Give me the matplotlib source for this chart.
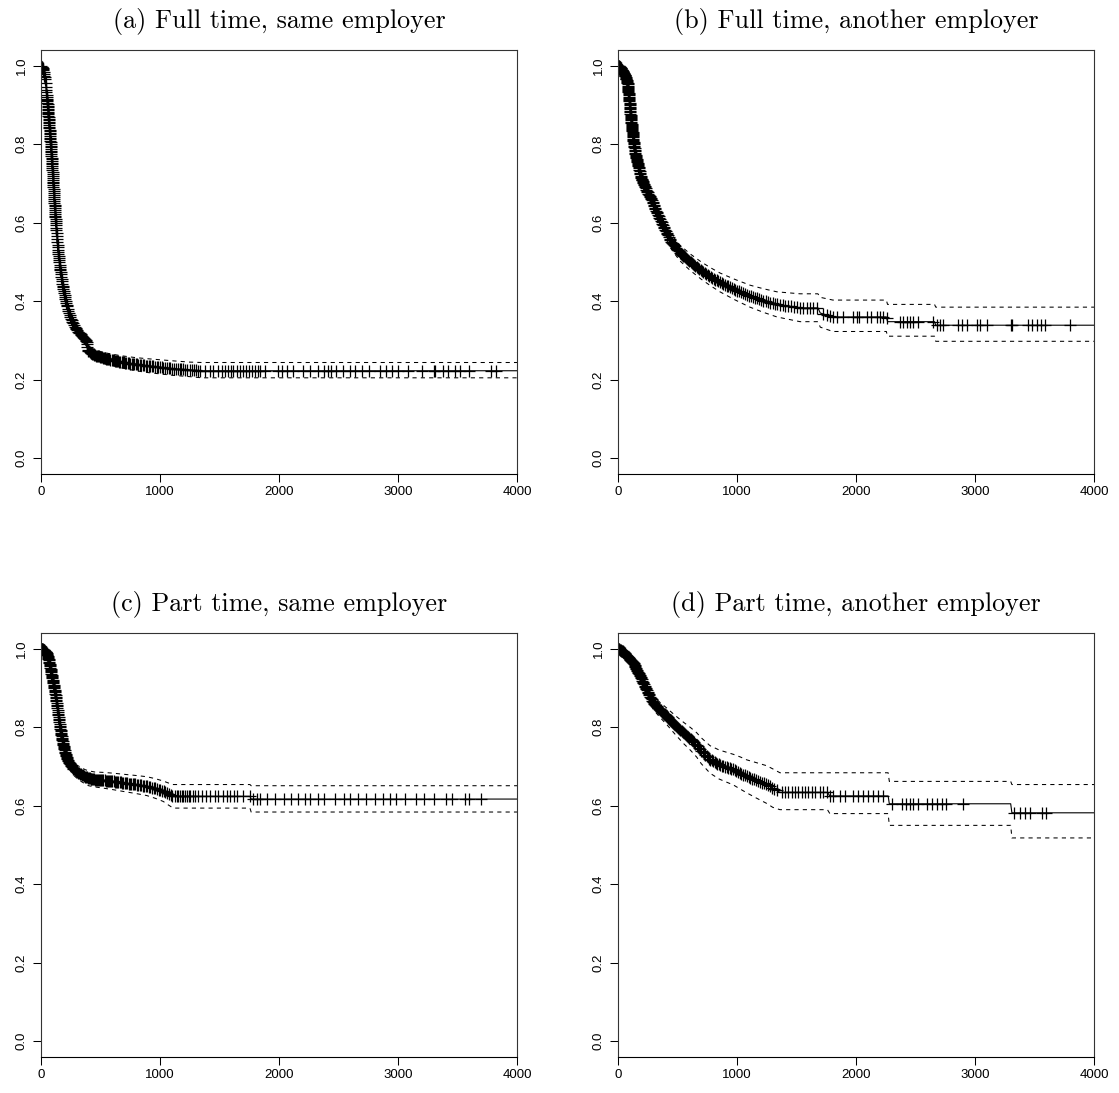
import numpy as np
import matplotlib
matplotlib.use("Agg")
import matplotlib.pyplot as plt

# --- Kaplan-Meier estimates ---
titles = ["(a) Full time, same employer", "(b) Full time, another employer",
          "(c) Part time, same employer", "(d) Part time, another employer"]

x_ticks = [0, 1000, 2000, 3000, 4000]
y_ticks = [0.0, 0.2, 0.4, 0.6, 0.8, 1.0]
y_labels = ["0.0", "0.2", "0.4", "0.6", "0.8", "1.0"]

# (a) full time, same employer
time_a = [0, 20, 35, 50, 65, 80, 95, 110, 125, 140, 160, 180, 200, 225, 250, 280, 310,
          340, 370, 385, 390, 420, 460, 520, 600, 680, 780, 880, 1000, 1120, 1250, 1350, 4000]
surv_a = [1.0, 0.99, 0.965, 0.92, 0.865, 0.805, 0.74, 0.665, 0.595, 0.54, 0.485, 0.445,
          0.412, 0.382, 0.357, 0.337, 0.323, 0.313, 0.303, 0.296, 0.276, 0.268, 0.262,
          0.256, 0.25, 0.245, 0.24, 0.236, 0.232, 0.228, 0.225, 0.223, 0.223]
upper_a = [1.0, 0.993, 0.97, 0.927, 0.873, 0.814, 0.749, 0.675, 0.605, 0.55, 0.495, 0.455,
           0.422, 0.392, 0.367, 0.348, 0.334, 0.324, 0.315, 0.308, 0.288, 0.281, 0.275,
           0.27, 0.265, 0.261, 0.257, 0.254, 0.251, 0.248, 0.245, 0.244, 0.244]
lower_a = [1.0, 0.987, 0.96, 0.913, 0.857, 0.796, 0.731, 0.655, 0.585, 0.53, 0.475, 0.435,
           0.402, 0.372, 0.347, 0.327, 0.313, 0.303, 0.292, 0.285, 0.265, 0.256, 0.25,
           0.243, 0.236, 0.23, 0.224, 0.219, 0.215, 0.211, 0.208, 0.205, 0.205]
cens_a = [2, 5, 8, 11, 14, 17, 20, 23, 26, 29, 32, 35, 38, 41, 44, 46, 48, 50, 51, 52, 53,
          54, 55, 56, 57, 58, 59, 60, 61, 62, 63, 64, 65, 66, 67, 68, 69, 70, 71, 72, 73,
          74, 75, 76, 77, 78, 79, 80, 81, 82, 83, 84, 85, 86, 87, 88, 89, 90, 91, 92, 93,
          94, 95, 96, 97, 98, 99, 100, 101, 102, 103, 104, 105, 106, 107, 108, 109, 110,
          111, 112, 113, 114, 115, 116, 117, 118, 119, 120, 121, 122, 123, 124, 125, 127,
          129, 131, 133, 135, 137, 139, 141, 143, 145, 147, 149, 151, 153, 155, 157, 159,
          161, 163, 165, 168, 171, 174, 177, 180, 183, 186, 189, 192, 195, 198, 201, 205,
          209, 213, 217, 221, 226, 231, 236, 241, 246, 252, 258, 264, 270, 276, 283, 290,
          297, 304, 311, 318, 325, 332, 339, 346, 353, 360, 367, 374, 380, 384, 386, 388,
          392, 398, 404, 410, 416, 422, 428, 435, 442, 449, 456, 463, 470, 478, 486, 494,
          502, 510, 518, 526, 534, 542, 550, 558, 566, 575, 584, 593, 602, 611, 620, 629,
          638, 648, 658, 668, 678, 688, 698, 708, 718, 729, 740, 751, 762, 773, 784, 795,
          807, 819, 831, 843, 855, 867, 880, 893, 906, 919, 932, 945, 958, 972, 986, 1000,
          1014, 1028, 1042, 1057, 1072, 1087, 1102, 1117, 1132, 1148, 1164, 1180, 1196,
          1212, 1230, 1248, 1266, 1284, 1302, 1320, 1336, 1378, 1420, 1445, 1487, 1520,
          1546, 1571, 1596, 1613, 1646, 1672, 1697, 1722, 1747, 1772, 1798, 1823, 1840,
          1882, 1991, 2024, 2066, 2117, 2200, 2260, 2330, 2380, 2410, 2440, 2480, 2540,
          2600, 2640, 2700, 2760, 2850, 2900, 2950, 3000, 3080, 3200, 3300, 3310, 3380,
          3420, 3480, 3520, 3600, 3780, 3820]

# (b) full time, another employer
time_b = [0, 20, 40, 60, 80, 95, 107, 123, 133, 150, 171, 190, 213, 245, 283, 320, 367,
          410, 452, 520, 605, 700, 780, 857, 980, 1109, 1220, 1336, 1530, 1680, 1700, 1806,
          2255, 2265, 2660, 2670, 4000]
surv_b = [1.0, 0.995, 0.985, 0.975, 0.955, 0.913, 0.871, 0.829, 0.8, 0.77, 0.744, 0.72,
          0.701, 0.68, 0.659, 0.63, 0.6, 0.573, 0.55, 0.523, 0.5, 0.478, 0.462, 0.448, 0.43,
          0.413, 0.402, 0.392, 0.383, 0.383, 0.37, 0.36, 0.36, 0.348, 0.348, 0.339, 0.339]
upper_b = [1.0, 0.998, 0.99, 0.982, 0.964, 0.923, 0.882, 0.841, 0.812, 0.783, 0.757, 0.734,
           0.715, 0.695, 0.674, 0.646, 0.617, 0.591, 0.569, 0.543, 0.521, 0.5, 0.485, 0.472,
           0.456, 0.441, 0.432, 0.424, 0.419, 0.419, 0.41, 0.403, 0.403, 0.392, 0.392,
           0.385, 0.385]
lower_b = [1.0, 0.992, 0.98, 0.968, 0.946, 0.903, 0.86, 0.817, 0.788, 0.757, 0.731, 0.706,
           0.687, 0.665, 0.644, 0.614, 0.583, 0.555, 0.531, 0.503, 0.479, 0.456, 0.439,
           0.424, 0.404, 0.385, 0.372, 0.36, 0.348, 0.348, 0.334, 0.323, 0.323, 0.311,
           0.311, 0.298, 0.298]
cens_b = [2, 4, 6, 8, 10, 12, 14, 16, 18, 20, 22, 24, 26, 28, 30, 32, 34, 36, 38, 40, 42,
          44, 46, 48, 50, 52, 54, 56, 58, 60, 62, 64, 66, 68, 70, 72, 74, 76, 78, 80, 81,
          82, 83, 84, 85, 86, 87, 88, 89, 90, 91, 92, 93, 94, 95, 96, 97, 98, 99, 100, 101,
          102, 103, 104, 105, 106, 107, 108, 109, 110, 111, 112, 113, 114, 115, 116, 117,
          118, 119, 120, 121, 122, 123, 124, 125, 126, 127, 128, 129, 130, 131, 132, 133,
          135, 137, 139, 141, 143, 145, 147, 149, 151, 153, 155, 157, 159, 161, 163, 165,
          167, 169, 171, 173, 175, 178, 181, 184, 187, 190, 193, 196, 199, 202, 205, 208,
          211, 214, 218, 222, 226, 230, 234, 238, 242, 246, 250, 255, 260, 265, 270, 275,
          280, 285, 290, 295, 300, 305, 310, 315, 320, 325, 330, 336, 342, 348, 354, 360,
          366, 372, 378, 384, 390, 396, 402, 408, 414, 420, 427, 434, 441, 448, 455, 462,
          470, 478, 486, 494, 502, 510, 518, 526, 535, 544, 553, 562, 571, 580, 590, 600,
          610, 620, 630, 640, 651, 662, 673, 684, 695, 706, 718, 730, 742, 754, 766, 778,
          791, 804, 817, 830, 843, 856, 870, 884, 898, 912, 926, 941, 956, 971, 986, 1001,
          1017, 1033, 1049, 1065, 1082, 1099, 1116, 1133, 1150, 1168, 1186, 1204, 1222,
          1240, 1260, 1280, 1300, 1320, 1340, 1362, 1384, 1406, 1428, 1450, 1475, 1500,
          1529, 1557, 1585, 1613, 1641, 1669, 1725, 1753, 1781, 1809, 1837, 1888, 1977,
          2011, 2028, 2090, 2123, 2179, 2202, 2230, 2258, 2370, 2398, 2426, 2454, 2482,
          2524, 2644, 2683, 2706, 2734, 2860, 2893, 2930, 3014, 3042, 3098, 3302, 3310,
          3442, 3476, 3518, 3551, 3588, 3800]

# (c) part time, same employer
time_c = [0, 25, 48, 65, 81, 95, 109, 120, 132, 146, 160, 179, 202, 220, 238, 260, 280,
          310, 342, 370, 400, 450, 520, 605, 700, 800, 888, 960, 1027, 1070, 1111, 1756,
          1766, 4000]
surv_c = [1.0, 0.997, 0.989, 0.972, 0.947, 0.926, 0.904, 0.885, 0.862, 0.83, 0.8, 0.768,
          0.735, 0.72, 0.709, 0.699, 0.692, 0.685, 0.679, 0.674, 0.67, 0.667, 0.665, 0.662,
          0.658, 0.654, 0.65, 0.644, 0.637, 0.63, 0.624, 0.624, 0.617, 0.617]
upper_c = [1.0, 0.999, 0.993, 0.978, 0.955, 0.935, 0.914, 0.896, 0.874, 0.843, 0.813,
           0.782, 0.749, 0.735, 0.724, 0.715, 0.708, 0.702, 0.697, 0.692, 0.689, 0.686,
           0.685, 0.683, 0.68, 0.677, 0.674, 0.669, 0.663, 0.658, 0.654, 0.654, 0.651, 0.651]
lower_c = [1.0, 0.995, 0.985, 0.966, 0.939, 0.917, 0.894, 0.874, 0.85, 0.817, 0.787,
           0.754, 0.721, 0.705, 0.694, 0.683, 0.676, 0.668, 0.661, 0.656, 0.651, 0.648,
           0.645, 0.641, 0.636, 0.631, 0.626, 0.619, 0.611, 0.602, 0.594, 0.594, 0.584, 0.584]
cens_c = [2, 5, 8, 11, 14, 17, 20, 23, 26, 29, 32, 35, 38, 41, 44, 47, 50, 52, 54, 56, 58,
          60, 62, 64, 66, 68, 70, 72, 74, 76, 78, 80, 82, 84, 86, 88, 90, 92, 94, 96, 98,
          100, 102, 104, 106, 108, 110, 112, 114, 116, 118, 120, 122, 124, 126, 128, 130,
          132, 134, 136, 138, 140, 142, 144, 146, 148, 150, 152, 154, 156, 158, 160, 162,
          164, 166, 168, 170, 172, 174, 176, 178, 180, 182, 184, 186, 188, 190, 192, 194,
          196, 198, 200, 203, 206, 209, 212, 215, 218, 221, 225, 229, 233, 237, 241, 246,
          251, 256, 261, 267, 273, 279, 285, 292, 299, 306, 313, 320, 328, 336, 344, 352,
          360, 368, 376, 384, 392, 400, 408, 416, 424, 432, 440, 448, 456, 464, 472, 480,
          489, 498, 507, 516, 525, 534, 543, 552, 561, 570, 580, 590, 600, 610, 620, 630,
          640, 650, 660, 670, 681, 692, 703, 714, 725, 736, 747, 758, 770, 782, 794, 806,
          818, 830, 842, 855, 868, 881, 894, 907, 920, 933, 946, 960, 974, 988, 1002, 1016,
          1030, 1045, 1060, 1075, 1090, 1105, 1125, 1140, 1155, 1170, 1184, 1196, 1212,
          1225, 1240, 1252, 1275, 1294, 1320, 1350, 1385, 1420, 1462, 1490, 1527, 1560,
          1588, 1620, 1650, 1700, 1756, 1784, 1812, 1840, 1896, 1966, 2040, 2100, 2160,
          2220, 2260, 2330, 2380, 2470, 2550, 2600, 2660, 2730, 2810, 2870, 2930, 2980,
          3060, 3150, 3220, 3300, 3400, 3450, 3560, 3600, 3700]

# (d) part time, another employer
time_d = [0, 40, 80, 129, 170, 213, 255, 297, 350, 409, 480, 549, 610, 661, 700, 740, 773,
          850, 969, 1030, 1081, 1160, 1249, 1300, 1361, 1760, 1780, 2270, 2280, 3300, 3310,
          4000]
surv_d = [1.0, 0.993, 0.98, 0.964, 0.94, 0.913, 0.887, 0.862, 0.845, 0.828, 0.806, 0.786,
          0.77, 0.755, 0.74, 0.728, 0.718, 0.705, 0.692, 0.683, 0.675, 0.665, 0.654, 0.645,
          0.634, 0.634, 0.625, 0.625, 0.605, 0.605, 0.582, 0.582]
upper_d = [1.0, 0.997, 0.987, 0.973, 0.951, 0.926, 0.902, 0.879, 0.864, 0.849, 0.83,
           0.813, 0.799, 0.786, 0.773, 0.762, 0.753, 0.742, 0.731, 0.724, 0.717, 0.71,
           0.702, 0.694, 0.684, 0.684, 0.684, 0.684, 0.662, 0.662, 0.654, 0.654]
lower_d = [1.0, 0.989, 0.973, 0.955, 0.929, 0.9, 0.872, 0.845, 0.826, 0.807, 0.782,
           0.759, 0.741, 0.724, 0.707, 0.694, 0.683, 0.668, 0.653, 0.642, 0.633, 0.62,
           0.606, 0.596, 0.59, 0.59, 0.58, 0.58, 0.55, 0.55, 0.518, 0.518]
cens_d = [3, 7, 11, 15, 19, 23, 27, 31, 35, 39, 43, 47, 51, 55, 59, 63, 67, 71, 75, 79,
          83, 87, 91, 95, 99, 103, 107, 111, 115, 119, 123, 127, 131, 135, 139, 143, 147,
          151, 155, 159, 163, 167, 171, 175, 179, 183, 187, 191, 195, 199, 204, 209, 214,
          219, 224, 229, 234, 239, 244, 249, 254, 259, 264, 270, 276, 282, 288, 294, 300,
          306, 312, 318, 324, 330, 337, 344, 351, 358, 365, 372, 379, 386, 393, 400, 408,
          416, 424, 432, 440, 448, 456, 464, 472, 480, 489, 498, 507, 516, 525, 534, 543,
          552, 561, 570, 580, 590, 600, 610, 620, 630, 640, 650, 660, 670, 680, 690, 700,
          711, 722, 733, 744, 755, 766, 777, 788, 800, 812, 824, 836, 848, 860, 873, 886,
          899, 912, 925, 938, 952, 966, 980, 994, 1008, 1022, 1037, 1052, 1067, 1082, 1097,
          1112, 1128, 1144, 1160, 1176, 1192, 1208, 1225, 1242, 1259, 1276, 1293, 1310,
          1332, 1375, 1400, 1431, 1460, 1487, 1515, 1543, 1570, 1599, 1630, 1655, 1697,
          1725, 1753, 1780, 1809, 1865, 1907, 1977, 2019, 2061, 2103, 2145, 2187, 2224,
          2300, 2390, 2420, 2450, 2480, 2520, 2600, 2640, 2680, 2720, 2760, 2900, 3330,
          3380, 3420, 3460, 3560, 3600]

panels = [
    (time_a, surv_a, upper_a, lower_a, cens_a),
    (time_b, surv_b, upper_b, lower_b, cens_b),
    (time_c, surv_c, upper_c, lower_c, cens_c),
    (time_d, surv_d, upper_d, lower_d, cens_d),
]

# axes boxes in pixels: left, top (from figure top)
W, H = 1119, 1093
box_w, box_h = 476, 424
boxes = [(41, 50), (618, 50), (41, 633), (618, 633)]

fig = plt.figure(figsize=(W / 100, H / 100), dpi=100)

for (left, top), title, (t, s, up, lo, cens) in zip(boxes, titles, panels):
    ax = fig.add_axes([left / W, (H - top - box_h) / H, box_w / W, box_h / H])

    # survival curve and confidence band
    ax.plot(t, s, color="black", lw=0.8)
    ax.plot(t, up, color="black", lw=0.75, dashes=(4, 4))
    ax.plot(t, lo, color="black", lw=0.75, dashes=(4, 4))

    # censoring marks sit on the curve
    cens_y = np.interp(cens, t, s)
    ax.plot(cens, cens_y, ls="none", marker="+", ms=8, mew=0.9, color="black")

    ax.set_xlim(0, 4000)
    ax.set_ylim(-0.04, 1.04)
    ax.set_xticks(x_ticks)
    ax.set_xticklabels([str(v) for v in x_ticks])
    ax.set_yticks(y_ticks)
    ax.set_yticklabels(y_labels, rotation=90, va="center")
    ax.tick_params(direction="out", length=6, width=0.75, labelsize=9.5)
    ax.tick_params(axis="x", pad=2.5)
    ax.tick_params(axis="y", pad=3.5)
    for lab in ax.get_xticklabels() + ax.get_yticklabels():
        lab.set_family("Liberation Sans")
    for sp in ax.spines.values():
        sp.set_linewidth(0.8)
        sp.set_color("#333333")
    ax.spines["bottom"].set_color("black")
    ax.set_title(title, fontfamily="cmr10", fontsize=18.8, pad=16)

fig.savefig("out.png", dpi=100)
